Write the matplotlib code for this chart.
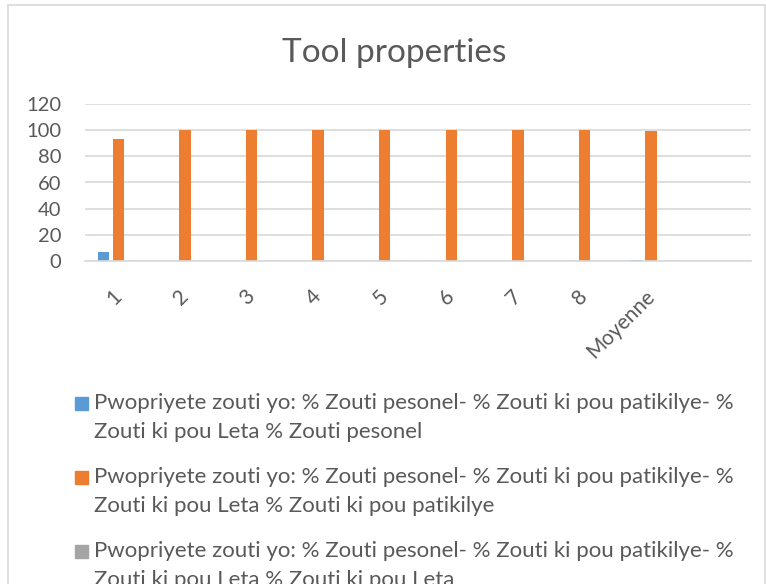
import numpy as np
import matplotlib.pyplot as plt
from matplotlib.patches import Rectangle

# data
categories = ['1', '2', '3', '4', '5', '6', '7', '8', 'Moyenne', '']
pesonel = [7, 0, 0, 0, 0, 0, 0, 0, 0.875, np.nan]
patikilye = [93, 100, 100, 100, 100, 100, 100, 100, 99.125, np.nan]
leta = [0, 0, 0, 0, 0, 0, 0, 0, 0, np.nan]
series_names = [
    'Pwopriyete zouti yo: % Zouti pesonel- % Zouti ki pou patikilye- %\nZouti ki pou Leta % Zouti pesonel',
    'Pwopriyete zouti yo: % Zouti pesonel- % Zouti ki pou patikilye- %\nZouti ki pou Leta % Zouti ki pou patikilye',
    'Pwopriyete zouti yo: % Zouti pesonel- % Zouti ki pou patikilye- %\nZouti ki pou Leta % Zouti ki pou Leta',
]
colors = ['#5B9BD5', '#ED7D31', '#A5A5A5']
yticks = [0, 20, 40, 60, 80, 100, 120]

TXT = '#595959'
GRID = '#D9D9D9'
plt.rcParams['font.family'] = ['Lato', 'DejaVu Sans']

W, H = 766, 584
fig = plt.figure(figsize=(W / 100, H / 100), dpi=100)


def fx(px):
    return px / W


def fy(py):
    return 1 - py / H


# chart border
fig.patches.append(Rectangle((fx(8), fy(590)), fx(757), 585 / H, transform=fig.transFigure,
                             fill=False, edgecolor=GRID, linewidth=1.2))

ax = fig.add_axes([fx(85), fy(261), fx(751 - 85), (261 - 104) / H])
x = np.arange(len(categories))
w = 0.17
off = 0.225
for i, (vals, c) in enumerate(zip([pesonel, patikilye, leta], colors)):
    ax.bar(x + (i - 1) * off, vals, w, color=c, zorder=3)

ax.set_xlim(-0.5, len(categories) - 0.5)
ax.set_ylim(0, 120)
ax.set_yticks(yticks)
ax.set_yticklabels([str(v) for v in yticks], fontsize=14.5, color=TXT)
ax.yaxis.grid(True, color=GRID, linewidth=1.2, zorder=0)
ax.set_xticks(x)
ax.set_xticklabels(categories, fontsize=15, color=TXT, rotation=45,
                   ha='right', va='center', rotation_mode='anchor')
ax.tick_params(axis='both', length=0)
ax.tick_params(axis='y', pad=17)
ax.tick_params(axis='x', pad=23)
for s in ['top', 'right', 'left']:
    ax.spines[s].set_visible(False)
ax.spines['bottom'].set_color(GRID)
ax.spines['bottom'].set_linewidth(1.2)
ax.spines['bottom'].set_zorder(4)

fig.text(fx(394), fy(62), 'Tool properties', fontsize=24, color=TXT, ha='center', va='baseline')

# legend
line_y = [(403, 432), (477, 506), (551, 580)]
for name, c, (y1, y2) in zip(series_names, colors, line_y):
    fig.patches.append(Rectangle((fx(75), fy(y1 + 7)), fx(13), 13 / H,
                                 transform=fig.transFigure, color=c))
    l1, l2 = name.split('\n')
    fig.text(fx(94), fy(y1), l1, fontsize=16, color=TXT, ha='left', va='center')
    fig.text(fx(94), fy(y2), l2, fontsize=16, color=TXT, ha='left', va='center')

fig.savefig('out.png', dpi=100)
